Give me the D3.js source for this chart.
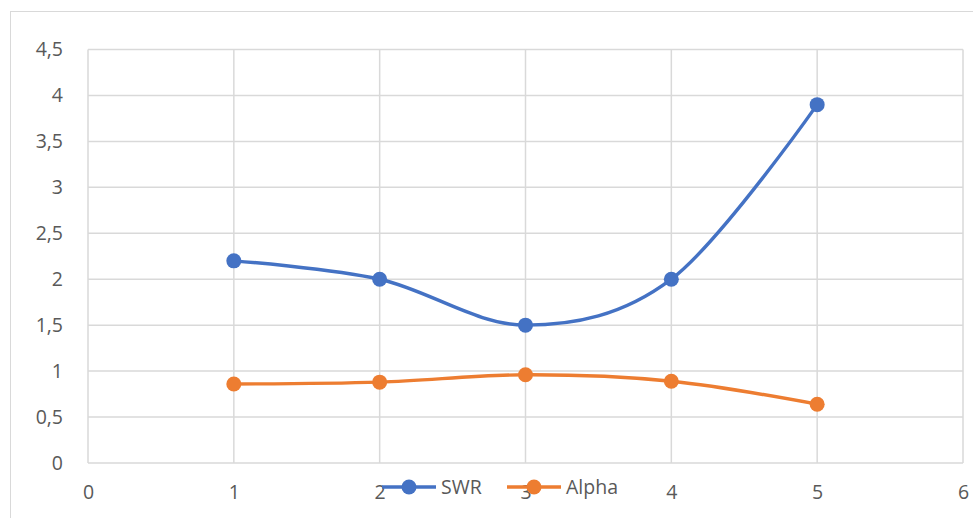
<!DOCTYPE html>
<html>
<head>
<meta charset="utf-8">
<script src="https://cdn.jsdelivr.net/npm/d3@7"></script>
<style>
  body { margin: 0; background: #fff; }
  svg { display: block; }
  text { font-family: "Open Sans", "Noto Sans", sans-serif; fill: #595959; }
</style>
</head>
<body>
<div id="chart"></div>
<script>
// data
var xValues = [1, 2, 3, 4, 5];
var swrValues = [2.2, 2.0, 1.5, 2.0, 3.9];
var alphaValues = [0.86, 0.88, 0.96, 0.89, 0.64];
var seriesNames = ["SWR", "Alpha"];
var xTicks = [0, 1, 2, 3, 4, 5, 6];
var yTicks = [0, 0.5, 1, 1.5, 2, 2.5, 3, 3.5, 4, 4.5];
var yTickLabels = ["0", "0,5", "1", "1,5", "2", "2,5", "3", "3,5", "4", "4,5"];

var width = 973, height = 518;
var plot = { left: 88, top: 49.5, right: 963, bottom: 463 };
var colors = ["#4472C4", "#ED7D31"];

var svg = d3.select("#chart").append("svg")
    .attr("width", width)
    .attr("height", height);

// outer chart border (only top and left show inside the frame)
svg.append("rect")
    .attr("x", 10.5).attr("y", 11.5)
    .attr("width", 1000).attr("height", 600)
    .attr("fill", "none")
    .attr("stroke", "#d9d9d9")
    .attr("stroke-width", 1);

var x = d3.scaleLinear().domain([0, 6]).range([plot.left, plot.right]);
var y = d3.scaleLinear().domain([0, 4.5]).range([plot.bottom, plot.top]);

// gridlines
var grid = svg.append("g").attr("stroke", "#d9d9d9").attr("stroke-width", 1.5);
grid.selectAll(".hg").data(yTicks).enter().append("line")
    .attr("x1", plot.left).attr("x2", plot.right)
    .attr("y1", d => y(d)).attr("y2", d => y(d));
grid.selectAll(".vg").data(xTicks).enter().append("line")
    .attr("x1", d => x(d)).attr("x2", d => x(d))
    .attr("y1", plot.top).attr("y2", plot.bottom);

// axes (labels only, Excel style)
var yAxis = d3.axisLeft(y).tickValues(yTicks)
    .tickFormat((d, i) => yTickLabels[i]).tickSize(0).tickPadding(25);
svg.append("g").attr("transform", "translate(" + plot.left + ",0)")
    .call(yAxis)
    .call(g => g.select(".domain").remove())
    .call(g => g.selectAll("text").attr("font-size", 19.5).style("fill", "#595959"));

var xAxis = d3.axisBottom(x).tickValues(xTicks)
    .tickFormat(d3.format("d")).tickSize(0).tickPadding(22);
svg.append("g").attr("transform", "translate(0," + plot.bottom + ")")
    .call(xAxis)
    .call(g => g.select(".domain").remove())
    .call(g => g.selectAll("text").attr("font-size", 19.5).style("fill", "#595959"));

// series
var series = [swrValues, alphaValues];
var line = d3.line()
    .x((d, i) => x(xValues[i]))
    .y(d => y(d))
    .curve(d3.curveCardinal.tension(0));

series.forEach(function (vals, s) {
    svg.append("path")
        .datum(vals)
        .attr("d", line)
        .attr("fill", "none")
        .attr("stroke", colors[s])
        .attr("stroke-width", 3.4)
        .attr("stroke-linecap", "round");
    svg.selectAll(".pt" + s).data(vals).enter().append("circle")
        .attr("cx", (d, i) => x(xValues[i]))
        .attr("cy", d => y(d))
        .attr("r", 7.5)
        .attr("fill", colors[s]);
});

// legend (sits over the x labels like the original)
var legendX = [382, 507];
var legend = svg.append("g");
seriesNames.forEach(function (name, s) {
    var lx = legendX[s], ly = 487;
    legend.append("line")
        .attr("x1", lx).attr("x2", lx + 54)
        .attr("y1", ly).attr("y2", ly)
        .attr("stroke", colors[s]).attr("stroke-width", 3.4);
    legend.append("circle")
        .attr("cx", lx + 27).attr("cy", ly).attr("r", 7.5)
        .attr("fill", colors[s]);
    legend.append("text")
        .attr("x", lx + 59).attr("y", ly)
        .attr("dy", "0.35em")
        .attr("font-size", 19.5)
        .text(name);
});
</script>
</body>
</html>
